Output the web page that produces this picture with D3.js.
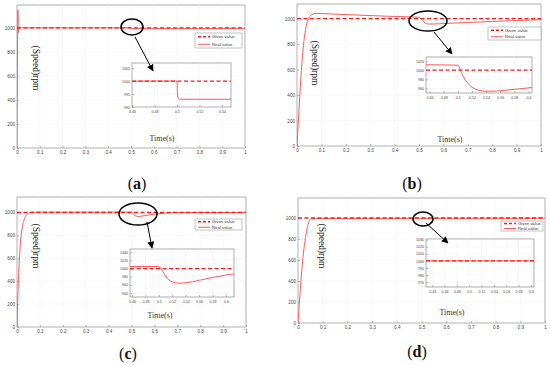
<!DOCTYPE html>
<html>
<head>
<meta charset="utf-8">
<script src="https://cdn.jsdelivr.net/npm/d3@7"></script>
<style>
  body { margin: 0; background: #fff; }
  svg text { font-family: "Liberation Sans", Arial, sans-serif; }
</style>
</head>
<body>
<div id="chart"></div>
<script>
"use strict";

// ---- data ----
var givenSpeed = 1000;
var mainTicksX = [0, 0.1, 0.2, 0.3, 0.4, 0.5, 0.6, 0.7, 0.8, 0.9, 1];
var mainTicksY = [0, 200, 400, 600, 800, 1000];

// (a)
var aTime = [0, 0.004, 0.006, 0.008, 0.01, 0.012, 0.5, 0.5005, 1.0];
var aReal = [0, 1150, 960, 1010, 995, 1000, 1000, 993, 993];
var aZoomTime = [0.46, 0.5, 0.5005, 0.502, 0.548];
var aZoomReal = [1000, 1000, 994, 993, 993];
var aZoomTicksX = [0.46, 0.48, 0.5, 0.52, 0.54];
var aZoomTicksY = [990, 995, 1000, 1005];

// (b)
var bTime = [0, 0.01, 0.02, 0.03, 0.04, 0.05, 0.06, 0.08, 0.1, 0.2, 0.3, 0.4, 0.5, 0.51, 0.52, 0.53, 0.54, 0.56, 0.6, 0.7, 0.8, 0.9, 1.0];
var bReal = [0, 350, 650, 850, 960, 1010, 1032, 1042, 1040, 1032, 1024, 1017, 1011, 995, 975, 962, 958, 958, 962, 970, 978, 985, 992];
var bZoomTime = [0.455, 0.5, 0.505, 0.51, 0.515, 0.52, 0.53, 0.54, 0.55, 0.56, 0.58, 0.605];
var bZoomReal = [1012, 1011, 995, 980, 970, 963, 956, 954, 954, 955, 958, 962];
var bZoomTicksX = [0.46, 0.48, 0.5, 0.52, 0.54, 0.56, 0.58, 0.6];
var bZoomTicksY = [960, 980, 1000, 1020];

// (c)
var cTime = [0, 0.005, 0.01, 0.015, 0.02, 0.03, 0.04, 0.05, 0.06, 0.08, 0.1, 0.5, 0.505, 0.51, 0.52, 0.53, 0.55, 0.6, 0.65, 0.7, 1.0];
var cReal = [0, 350, 580, 730, 830, 930, 975, 993, 1000, 1003, 1003, 1003, 995, 982, 968, 965, 970, 985, 995, 1000, 1000];
var cZoomTime = [0.457, 0.5, 0.505, 0.51, 0.515, 0.52, 0.525, 0.53, 0.54, 0.56, 0.58, 0.6, 0.612];
var cZoomReal = [1005, 1005, 995, 982, 972, 967, 965, 964, 965, 971, 978, 984, 987];
var cZoomTicksX = [0.46, 0.48, 0.5, 0.52, 0.54, 0.56, 0.58, 0.6];
var cZoomTicksY = [940, 960, 980, 1000, 1020, 1040];

// (d)
var dTime = [0, 0.02, 0.053, 0.1, 1.0];
var dReal = [0, 620, 990, 995, 998];
var dZoomTime = [0.43, 0.605];
var dZoomReal = [1000, 1000];
var dZoomTicksX = [0.44, 0.46, 0.48, 0.5, 0.52, 0.54, 0.56, 0.58, 0.6];
var dZoomTicksY = [970, 980, 990, 1000, 1010, 1020, 1030];

var legendNames = ["Given value", "Real value"];

// ---- layout of the four panels ----
var panels = [
  { label: "a", time: aTime, real: aReal, zt: aZoomTime, zr: aZoomReal, ztx: aZoomTicksX, zty: aZoomTicksY,
    box: [17, 245, 5, 148], ymax: 1190,
    inset: [132, 231, 63, 107], ixd: [0.46, 0.548], iyd: [990, 1007],
    legend: [195, 242, 33, 48], ell: [132, 27, 11, 8], arrow: [135, 37, 153, 71],
    timeXY: [162, 141], speedXY: [36, 68], labelXY: [137, 189] },
  { label: "b", time: bTime, real: bReal, zt: bZoomTime, zr: bZoomReal, ztx: bZoomTicksX, zty: bZoomTicksY,
    box: [297, 541, 4, 146], ymax: 1115,
    inset: [426, 532, 57, 93], ixd: [0.455, 0.605], iyd: [950, 1029],
    legend: [488, 541, 27, 40], ell: [428, 21, 19, 10], arrow: [434, 32, 452, 54],
    timeXY: [450, 142], speedXY: [315, 63], labelXY: [412, 189] },
  { label: "c", time: cTime, real: cReal, zt: cZoomTime, zr: cZoomReal, ztx: cZoomTicksX, zty: cZoomTicksY,
    box: [17, 246, 197, 327], ymax: 1135,
    inset: [130, 234, 249, 297], ixd: [0.457, 0.612], iyd: [930, 1048],
    legend: [195, 242, 219, 230], ell: [138, 214, 19, 11], arrow: [147, 222, 152, 248],
    timeXY: [160, 318], speedXY: [36, 246], labelXY: [128, 359] },
  { label: "d", time: dTime, real: dReal, zt: dZoomTime, zr: dZoomReal, ztx: dZoomTicksX, zty: dZoomTicksY,
    box: [298, 545, 198, 323], ymax: 1190,
    inset: [426, 534, 239, 287], ixd: [0.43, 0.605], iyd: [963, 1031],
    legend: [501, 543, 221, 231], ell: [423, 219, 10, 7], arrow: [426, 223, 448, 243],
    timeXY: [452, 315], speedXY: [322, 246], labelXY: [417, 357] }
];

var svg = d3.select("#chart").append("svg")
  .attr("width", 550).attr("height", 365);

var defs = svg.append("defs");
defs.append("marker")
  .attr("id", "head").attr("viewBox", "0 0 10 10")
  .attr("refX", 9).attr("refY", 5)
  .attr("markerWidth", 7).attr("markerHeight", 7)
  .attr("orient", "auto")
  .append("path").attr("d", "M0,0 L10,5 L0,10 z").attr("fill", "#000");

var redGiven = "#ff1a1a", redReal = "#ff5a5a";

function drawAxes(g, x, y, tx, ty, r, fs) {
  // frame + grid
  g.append("rect").attr("x", r[0]).attr("y", r[2])
    .attr("width", r[1] - r[0]).attr("height", r[3] - r[2])
    .attr("fill", "#fff").attr("stroke", "#9a9a9a").attr("stroke-width", 0.8);
  g.selectAll(".gx").data(tx).enter().append("line")
    .attr("x1", d => x(d)).attr("x2", d => x(d)).attr("y1", r[2]).attr("y2", r[3])
    .attr("stroke", "#e4e4e4").attr("stroke-width", 0.5).attr("stroke-dasharray", "1,1");
  g.selectAll(".gy").data(ty).enter().append("line")
    .attr("y1", d => y(d)).attr("y2", d => y(d)).attr("x1", r[0]).attr("x2", r[1])
    .attr("stroke", "#e4e4e4").attr("stroke-width", 0.5).attr("stroke-dasharray", "1,1");

  var ax = g.append("g").attr("transform", "translate(0," + r[3] + ")")
    .call(d3.axisBottom(x).tickValues(tx).tickSize(-2).tickPadding(3).tickFormat(d3.format("~g")));
  var ay = g.append("g").attr("transform", "translate(" + r[0] + ",0)")
    .call(d3.axisLeft(y).tickValues(ty).tickSize(-2).tickPadding(2).tickFormat(d3.format("~g")));
  [ax, ay].forEach(function(a) {
    a.select(".domain").remove();
    a.selectAll("line").attr("stroke", "#777").attr("stroke-width", 0.5);
    a.selectAll("text").attr("font-size", fs).attr("fill", "#444")
      .attr("font-family", "Liberation Sans, Arial, sans-serif");
  });
}

function drawLines(g, x, y, time, real, r, wGiven, wReal) {
  var clipId = "clip" + Math.round(r[0]) + "_" + Math.round(r[2]);
  defs.append("clipPath").attr("id", clipId).append("rect")
    .attr("x", r[0]).attr("y", r[2]).attr("width", r[1] - r[0]).attr("height", r[3] - r[2]);
  var line = d3.line().x(d => x(d[0])).y(d => y(d[1])).curve(d3.curveMonotoneX);
  var cg = g.append("g").attr("clip-path", "url(#" + clipId + ")");
  cg.append("path").datum(time.map((t, i) => [t, real[i]]))
    .attr("d", line).attr("fill", "none")
    .attr("stroke", redReal).attr("stroke-width", wReal);
  var dom = x.domain();
  cg.append("path").datum([[dom[0], givenSpeed], [dom[1], givenSpeed]])
    .attr("d", d3.line().x(d => x(d[0])).y(d => y(d[1])))
    .attr("fill", "none").attr("stroke", redGiven)
    .attr("stroke-width", wGiven).attr("stroke-dasharray", "4,2.5");
}

panels.forEach(function(p) {
  var g = svg.append("g");
  var b = p.box;
  var x = d3.scaleLinear().domain([0, 1]).range([b[0], b[1]]);
  var y = d3.scaleLinear().domain([0, p.ymax]).range([b[3], b[2]]);
  drawAxes(g, x, y, mainTicksX, mainTicksY, b, 4.6);
  drawLines(g, x, y, p.time, p.real, b, 1.4, 1);

  // axis titles
  g.append("text").attr("x", p.timeXY[0]).attr("y", p.timeXY[1])
    .attr("text-anchor", "middle").attr("font-size", 8)
    .style("font-family", "Liberation Serif, Times New Roman, serif")
    .attr("fill", "#333").text("Time(s)");
  g.append("text")
    .attr("transform", "translate(" + p.speedXY[0] + "," + p.speedXY[1] + ") rotate(90)")
    .attr("text-anchor", "middle").attr("font-size", 9.5).attr("dy", "0.35em")
    .style("font-family", "Liberation Serif, Times New Roman, serif")
    .attr("fill", "#222").text("(Speed)rpm");

  // legend
  var L = p.legend, lh = (L[3] - L[2]) / 2;
  var lg = g.append("g");
  lg.append("rect").attr("x", L[0]).attr("y", L[2])
    .attr("width", L[1] - L[0]).attr("height", L[3] - L[2])
    .attr("fill", "#fff").attr("stroke", "#888").attr("stroke-width", 0.5);
  legendNames.forEach(function(name, i) {
    var yy = L[2] + lh * (i + 0.5);
    lg.append("line").attr("x1", L[0] + 3).attr("x2", L[0] + 15).attr("y1", yy).attr("y2", yy)
      .attr("stroke", i === 0 ? redGiven : redReal)
      .attr("stroke-width", i === 0 ? 1.6 : 1)
      .attr("stroke-dasharray", i === 0 ? "3,2" : null);
    lg.append("text").attr("x", L[0] + 17).attr("y", yy).attr("dy", "0.35em")
      .attr("font-size", 4.3).attr("fill", "#333").text(name);
  });

  // inset
  var r = p.inset;
  var ix = d3.scaleLinear().domain(p.ixd).range([r[0], r[1]]);
  var iy = d3.scaleLinear().domain(p.iyd).range([r[3], r[2]]);
  var ig = g.append("g");
  drawAxes(ig, ix, iy, p.ztx, p.zty, r, 3.6);
  drawLines(ig, ix, iy, p.zt, p.zr, r, 1.3, 1);

  // ellipse and arrow
  g.append("ellipse").attr("cx", p.ell[0]).attr("cy", p.ell[1])
    .attr("rx", p.ell[2]).attr("ry", p.ell[3])
    .attr("fill", "none").attr("stroke", "#000").attr("stroke-width", 1.5);
  g.append("line").attr("x1", p.arrow[0]).attr("y1", p.arrow[1])
    .attr("x2", p.arrow[2]).attr("y2", p.arrow[3])
    .attr("stroke", "#000").attr("stroke-width", 1)
    .attr("marker-end", "url(#head)");

  // panel label
  var t = g.append("text").attr("x", p.labelXY[0]).attr("y", p.labelXY[1])
    .attr("text-anchor", "middle").attr("font-size", 16)
    .style("font-family", "Liberation Serif, Times New Roman, serif").attr("fill", "#111");
  t.append("tspan").text("(");
  t.append("tspan").attr("font-weight", "bold").text(p.label);
  t.append("tspan").text(")");
});
</script>
</body>
</html>
